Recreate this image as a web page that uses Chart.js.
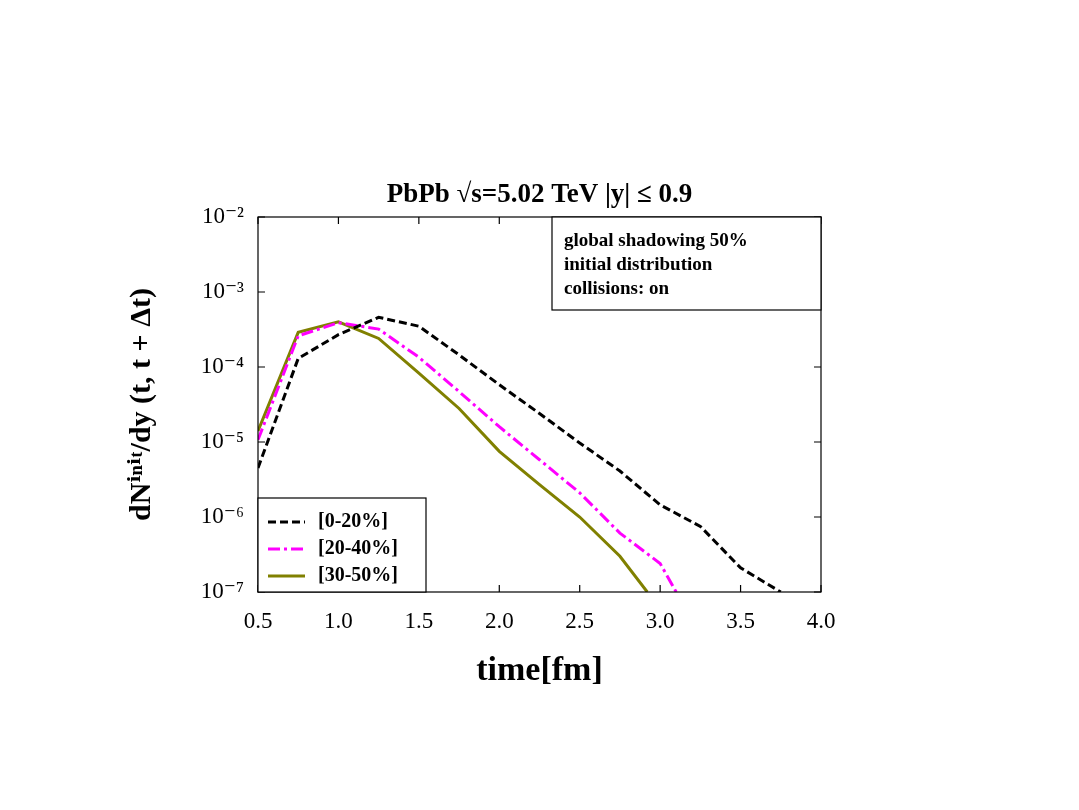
<!DOCTYPE html>
<html><head><meta charset="utf-8">
<script src="https://cdn.jsdelivr.net/npm/chart.js@4"></script>
<style>html,body{margin:0;padding:0;background:#fff}#w{width:1079px;height:810px}</style>
</head><body><div id="w"><canvas id="c"></canvas></div>
<script>
const xBlack=[0.5,0.75,1.0,1.25,1.5,1.75,2.0,2.25,2.5,2.75,3.0,3.25,3.5,3.75];
const yBlack=[4.5e-6,1.3e-4,2.7e-4,4.6e-4,3.5e-4,1.45e-4,5.8e-5,2.4e-5,9.7e-6,4.1e-6,1.45e-6,7.5e-7,2.1e-7,1e-7];
const xMagenta=[0.5,0.75,1.0,1.25,1.5,1.75,2.0,2.25,2.5,2.75,3.0,3.1];
const yMagenta=[1.07e-5,2.6e-4,3.9e-4,3.2e-4,1.35e-4,4.7e-5,1.6e-5,5.8e-6,2.1e-6,6.1e-7,2.4e-7,1.0e-7];
const xOlive=[0.5,0.75,1.0,1.25,1.5,1.75,2.0,2.25,2.5,2.75,2.92];
const yOlive=[1.4e-5,2.9e-4,4.0e-4,2.4e-4,8.3e-5,2.8e-5,7.5e-6,2.7e-6,1.0e-6,3.0e-7,1.0e-7];
const seriesNames=['[0-20%]','[20-40%]','[30-50%]'];
const xTicks=[0.5,1.0,1.5,2.0,2.5,3.0,3.5,4.0];
const yTickLabels={'-2':'10⁻²','-3':'10⁻³','-4':'10⁻⁴','-5':'10⁻⁵','-6':'10⁻⁶','-7':'10⁻⁷'};
const annotLines=['global shadowing 50%','initial distribution','collisions: on'];

const F='"Liberation Serif", "DejaVu Serif", serif';
const colors=['#000000','#ff00ff','#808000'];
const dashes=[[8,4],[12,4,3,4],[]];
const pts=(xs,ys)=>xs.map((x,i)=>({x,y:ys[i]}));

const deco={id:'deco',afterDraw(ch){
  const c=ch.ctx,a=ch.chartArea,xs=ch.scales.x,ys=ch.scales.y;
  c.save();
  c.strokeStyle='#000';c.lineWidth=1.2;
  c.strokeRect(a.left,a.top,a.right-a.left,a.bottom-a.top);
  // ticks
  xTicks.forEach(v=>{const p=xs.getPixelForValue(v);
    c.beginPath();c.moveTo(p,a.bottom);c.lineTo(p,a.bottom-7);c.moveTo(p,a.top);c.lineTo(p,a.top+7);c.stroke();});
  for(let e=-7;e<=-2;e++){const p=ys.getPixelForValue(Math.pow(10,e));
    c.beginPath();c.moveTo(a.left,p);c.lineTo(a.left+7,p);c.moveTo(a.right,p);c.lineTo(a.right-7,p);c.stroke();}
  // title
  c.fillStyle='#000';c.textAlign='center';c.textBaseline='alphabetic';
  c.font='bold 27px '+F;
  c.fillText('PbPb √s=5.02 TeV |y| ≤ 0.9',(a.left+a.right)/2,202);
  // x title
  c.font='bold 34px '+F;
  c.fillText('time[fm]',(a.left+a.right)/2,680);
  // y title
  c.save();c.translate(150,(a.top+a.bottom)/2);c.rotate(-Math.PI/2);
  c.font='bold 30px '+F;c.fillText('dNⁱⁿⁱᵗ/dy (t, t + Δt)',0,0);c.restore();
  // annotation box
  c.fillStyle='#fff';c.fillRect(552,217,269,93);
  c.strokeRect(552,217,269,93);
  c.fillStyle='#000';c.textAlign='left';c.font='bold 19px '+F;
  annotLines.forEach((t,i)=>c.fillText(t,564,246+i*24));
  // legend
  c.fillStyle='#fff';c.fillRect(258,498,168,94);
  c.strokeRect(258,498,168,94);
  seriesNames.forEach((n,i)=>{const y=522+i*27;
    c.strokeStyle=colors[i];c.lineWidth=3;c.setLineDash(dashes[i]);
    c.beginPath();c.moveTo(268,y);c.lineTo(305,y);c.stroke();c.setLineDash([]);
    c.fillStyle='#000';c.font='bold 20px '+F;c.textBaseline='middle';c.fillText(n,318,y);});
  c.restore();
}};

new Chart(document.getElementById('c'),{
  type:'line',
  data:{datasets:[
    {label:seriesNames[0],data:pts(xBlack,yBlack),borderColor:colors[0],borderDash:dashes[0],borderWidth:3,pointRadius:0},
    {label:seriesNames[1],data:pts(xMagenta,yMagenta),borderColor:colors[1],borderDash:dashes[1],borderWidth:3,pointRadius:0},
    {label:seriesNames[2],data:pts(xOlive,yOlive),borderColor:colors[2],borderDash:dashes[2],borderWidth:3,pointRadius:0}
  ]},
  options:{responsive:true,maintainAspectRatio:false,animation:false,
    layout:{padding:{left:188,right:258,top:217,bottom:168}},
    plugins:{legend:{display:false},tooltip:{enabled:false}},
    scales:{
      x:{type:'linear',min:0.5,max:4.0,afterFit:s=>{s.height=50;},
        afterBuildTicks:s=>{s.ticks=xTicks.map(v=>({value:v}));},
        grid:{display:false},border:{display:false},
        ticks:{color:'#000',font:{family:F,size:23},padding:8,maxRotation:0,callback:v=>v.toFixed(1)}},
      y:{type:'logarithmic',min:1e-7,max:1e-2,afterFit:s=>{s.width=70;},
        afterBuildTicks:s=>{s.ticks=[-7,-6,-5,-4,-3,-2].map(e=>({value:Math.pow(10,e)}));},
        grid:{display:false},border:{display:false},
        ticks:{color:'#000',font:{family:F,size:23},padding:6,
          callback:v=>yTickLabels[String(Math.round(Math.log10(v)))]||''}}
    }}
  ,plugins:[deco]});
</script></body></html>
